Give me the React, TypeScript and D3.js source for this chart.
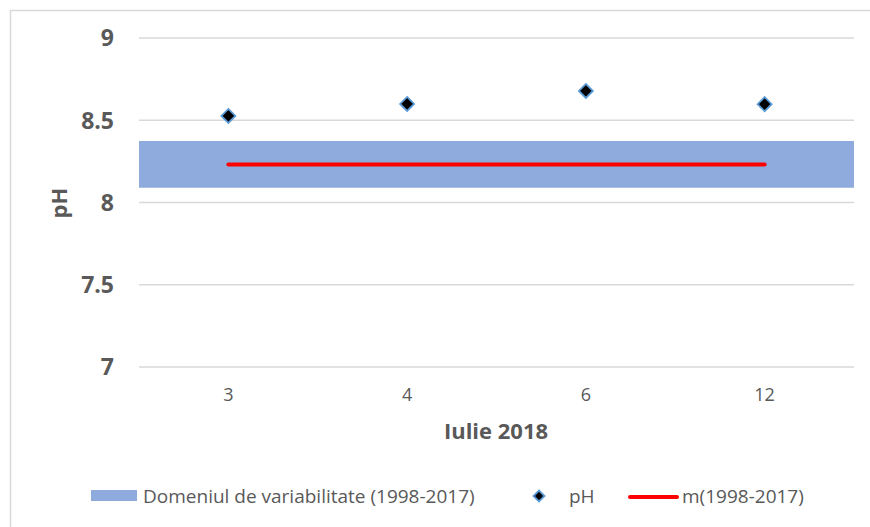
import React from "react";
import * as d3 from "d3";

const categories = ["3", "4", "6", "12"];
const phValues = [8.526, 8.599, 8.678, 8.598];
const rangeMin = [8.09, 8.09, 8.09, 8.09];
const rangeMax = [8.374, 8.374, 8.374, 8.374];
const meanValues = [8.231, 8.231, 8.231, 8.231];
const yTicks = [7, 7.5, 8, 8.5, 9];

const W = 870;
const H = 527;
const FONT = "'Open Sans', 'Liberation Sans', Arial, sans-serif";

export default function App() {
  const x = d3.scaleBand<string>().domain(categories).range([139, 854]).padding(0);
  const y = d3.scaleLinear().domain([7, 9]).range([367, 38]);
  const cx = (c: string) => (x(c) as number) + x.bandwidth() / 2;

  const area = d3
    .area<number>()
    .x((_, i) => (i === 0 ? 139 : i === categories.length - 1 ? 854 : cx(categories[i])))
    .y0((_, i) => y(rangeMin[i]))
    .y1((_, i) => y(rangeMax[i]));

  const meanLine = d3
    .line<number>()
    .x((_, i) => cx(categories[i]))
    .y((d) => y(d));

  const diamondPath = (s: number) => `M0,${-s}L${s},0L0,${s}L${-s},0Z`;

  return (
    <svg
      width={W}
      height={H}
      style={{ position: "absolute", left: 0, top: 0, background: "#fff" }}
      fontFamily={FONT}
    >
      <rect x={10.5} y={10.5} width={900} height={600} fill="none" stroke="#D9D9D9" strokeWidth={1.5} />
      {yTicks.map((t) => (
        <g key={t}>
          <line x1={139} x2={854} y1={y(t)} y2={y(t)} stroke="#D9D9D9" strokeWidth={1.5} />
          <text
            x={114}
            y={y(t)}
            dy="0.36em"
            textAnchor="end"
            fontSize={23}
            fontWeight="bold"
            fill="#595959"
          >
            {t}
          </text>
        </g>
      ))}
      <path d={area(rangeMin) || ""} fill="#8FAADC" />
      <path d={meanLine(meanValues) || ""} fill="none" stroke="#FF0000" strokeWidth={4} strokeLinecap="round" />
      {categories.map((c, i) => (
        <g key={c}>
          <path
            d={diamondPath(7)}
            transform={`translate(${cx(c)},${y(phValues[i])})`}
            fill="#000"
            stroke="#5B9BD5"
            strokeWidth={1.8}
          />
          <text x={cx(c)} y={395} dy="0.36em" textAnchor="middle" fontSize={18} fill="#595959">
            {c}
          </text>
        </g>
      ))}
      <text x={496} y={431} dy="0.36em" textAnchor="middle" fontSize={22} fontWeight="bold" fill="#595959">
        Iulie 2018
      </text>
      <text
        transform="translate(59,203) rotate(-90)"
        dy="0.36em"
        textAnchor="middle"
        fontSize={22}
        fontWeight="bold"
        fill="#595959"
      >
        pH
      </text>
      {/* Legend */}
      <rect x={91} y={490} width={46} height={11} fill="#8FAADC" />
      <text x={143} y={496} dy="0.36em" fontSize={19} fill="#595959">
        Domeniul de variabilitate (1998-2017)
      </text>
      <path d={diamondPath(5.5)} transform="translate(539,496)" fill="#000" stroke="#5B9BD5" strokeWidth={1.8} />
      <text x={569} y={496} dy="0.36em" fontSize={19} fill="#595959">
        pH
      </text>
      <line x1={630} x2={677} y1={497} y2={497} stroke="#FF0000" strokeWidth={4} strokeLinecap="round" />
      <text x={682} y={496} dy="0.36em" fontSize={19} fill="#595959">
        m(1998-2017)
      </text>
    </svg>
  );
}
